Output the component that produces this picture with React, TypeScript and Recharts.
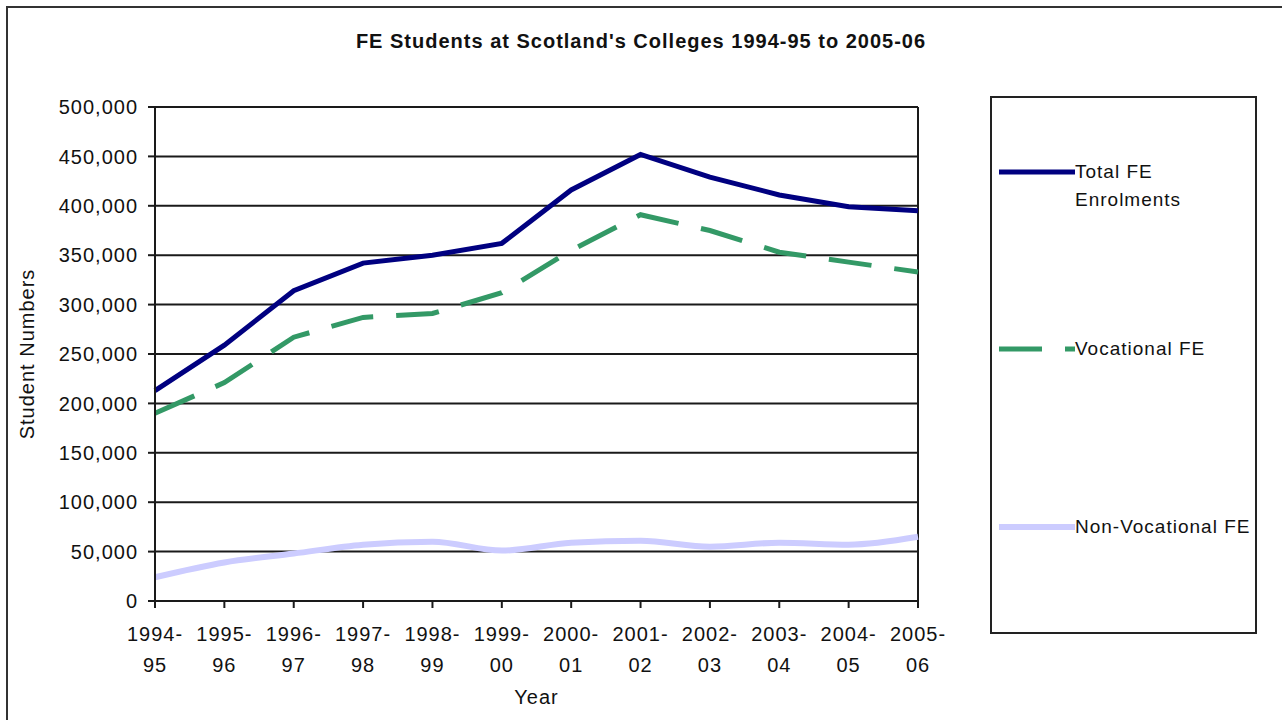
import React from "react";
import {
  LineChart,
  Line,
  XAxis,
  YAxis,
  CartesianGrid,
  ReferenceLine,
} from "recharts";

const years = [
  "1994-95", "1995-96", "1996-97", "1997-98", "1998-99", "1999-00",
  "2000-01", "2001-02", "2002-03", "2003-04", "2004-05", "2005-06",
];
const totalFE = [213000, 259000, 314000, 342000, 350000, 362000, 416000, 452000, 429000, 411000, 399000, 395000];
const vocationalFE = [190000, 221000, 267000, 287000, 291000, 312000, 355000, 391000, 375000, 353000, 343000, 333000];
const nonVocationalFE = [24000, 39000, 48000, 57000, 60000, 51000, 59000, 61000, 55000, 59000, 57000, 65000];
const yTicks = [0, 50000, 100000, 150000, 200000, 250000, 300000, 350000, 400000, 450000, 500000];

const seriesNames = ["Total FE Enrolments", "Vocational FE", "Non-Vocational FE"];

const data = years.map((y, i) => ({
  year: y,
  total: totalFE[i],
  vocational: vocationalFE[i],
  nonVocational: nonVocationalFE[i],
}));

const FONT = "'Liberation Sans', Arial, sans-serif";
const DASH = "43 23";

// two-line year tick, e.g. "1994-" over "95"
function YearTick({ x, y, payload }: any) {
  const [a, b] = String(payload.value).split("-");
  return (
    <text
      x={x}
      textAnchor="middle"
      fill="#111"
      fontSize={20}
      fontFamily={FONT}
      letterSpacing={1}
    >
      <tspan x={x} y={y + 31}>{a + "-"}</tspan>
      <tspan x={x} y={y + 62}>{b}</tspan>
    </text>
  );
}

function LegendBox() {
  const rows = [
    { name: seriesNames[0], color: "#000080", dash: undefined, y: 172, width: 5 },
    { name: seriesNames[1], color: "#339966", dash: DASH, y: 349, width: 5 },
    { name: seriesNames[2], color: "#CCCCFF", dash: undefined, y: 527, width: 6 },
  ];
  return (
    <div
      style={{
        position: "absolute",
        left: 990,
        top: 96,
        width: 263,
        height: 534,
        border: "2px solid #222",
        background: "#fff",
      }}
    >
      {rows.map((r) => (
        <div key={r.name}>
          <svg
            width={80}
            height={10}
            style={{ position: "absolute", left: 5, top: r.y - 98 - 5 }}
          >
            <line
              x1={2}
              x2={78}
              y1={5}
              y2={5}
              stroke={r.color}
              strokeWidth={r.width}
              strokeDasharray={r.dash}
            />
          </svg>
          <div
            style={{
              position: "absolute",
              left: 83,
              top: r.y - 98 - 14,
              width: 180,
              fontFamily: FONT,
              fontSize: 19,
              letterSpacing: 1,
              lineHeight: "28px",
              color: "#111",
            }}
          >
            {r.name === seriesNames[0] ? (
              <>
                Total FE
                <br />
                Enrolments
              </>
            ) : (
              r.name
            )}
          </div>
        </div>
      ))}
    </div>
  );
}

export default function App() {
  return (
    <div
      style={{
        position: "absolute",
        left: 0,
        top: 0,
        width: 1282,
        height: 720,
        overflow: "hidden",
        background: "#fff",
        fontFamily: FONT,
      }}
    >
      <div
        style={{
          position: "absolute",
          left: 6,
          top: 6,
          width: 1300,
          height: 740,
          borderLeft: "2px solid #333",
          borderTop: "2px solid #333",
        }}
      />
      <div
        style={{
          position: "absolute",
          left: 0,
          top: 30,
          width: 1282,
          textAlign: "center",
          fontWeight: "bold",
          fontSize: 20,
          letterSpacing: 1,
          color: "#111",
        }}
      >
        FE Students at Scotland's Colleges 1994-95 to 2005-06
      </div>
      <div style={{ position: "absolute", left: 0, top: 0 }}>
        <LineChart
          width={1282}
          height={720}
          data={data}
          margin={{ top: 107, right: 364, bottom: 14, left: 25 }}
        >
          <CartesianGrid horizontal vertical={false} stroke="#1a1a1a" strokeWidth={2} />
          <XAxis
            dataKey="year"
            height={105}
            tick={<YearTick />}
            tickSize={7}
            tickMargin={2}
            interval={0}
            stroke="#1a1a1a"
            strokeWidth={2}
            label={{
              value: "Year",
              position: "insideBottom",
              offset: 2,
              fill: "#111",
              fontSize: 20,
              fontFamily: FONT,
              letterSpacing: 1,
            }}
          />
          <YAxis
            width={130}
            domain={[0, 500000]}
            ticks={yTicks}
            tickFormatter={(v: number) => v.toLocaleString("en-US")}
            tickSize={7}
            tickMargin={10}
            stroke="#1a1a1a"
            strokeWidth={2}
            tick={{ fill: "#111", fontSize: 20, fontFamily: FONT, letterSpacing: 1 }}
            label={{
              value: "Student Numbers",
              angle: -90,
              position: "insideLeft",
              offset: 2,
              fill: "#111",
              fontSize: 20,
              fontFamily: FONT,
              letterSpacing: 1,
              style: { textAnchor: "middle" },
            }}
          />
          <ReferenceLine x={years[years.length - 1]} stroke="#1a1a1a" strokeWidth={2} />
          <Line
            type="monotone"
            dataKey="nonVocational"
            name={seriesNames[2]}
            stroke="#CCCCFF"
            strokeWidth={6}
            dot={false}
            isAnimationActive={false}
          />
          <Line
            type="linear"
            dataKey="vocational"
            name={seriesNames[1]}
            stroke="#339966"
            strokeWidth={5}
            strokeDasharray={DASH}
            dot={false}
            isAnimationActive={false}
          />
          <Line
            type="linear"
            dataKey="total"
            name={seriesNames[0]}
            stroke="#000080"
            strokeWidth={5}
            dot={false}
            isAnimationActive={false}
          />
        </LineChart>
      </div>
      <LegendBox />
    </div>
  );
}
